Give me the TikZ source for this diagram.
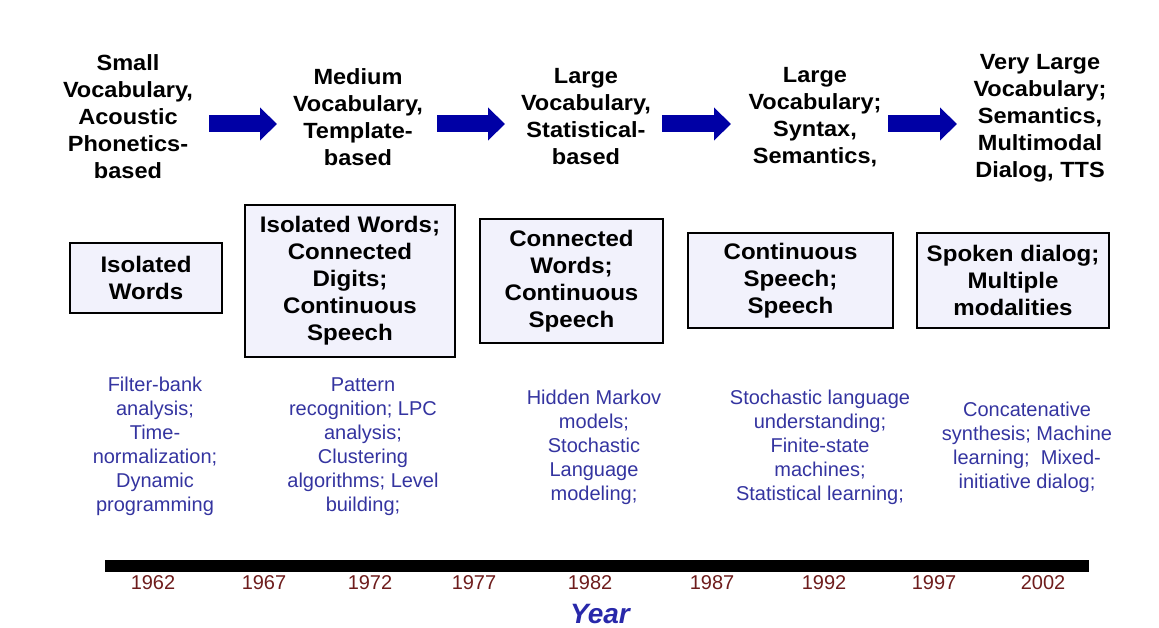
\documentclass[tikz,border=0pt]{standalone}
\usepackage{fontspec}
\setmainfont[FakeStretch=1.07]{Liberation Sans}
\newfontfamily\plainsans{Liberation Sans}
\usetikzlibrary{arrows.meta}
\definecolor{arrowblue}{RGB}{0,0,165}
\definecolor{techblue}{RGB}{52,52,160}
\definecolor{yearred}{RGB}{110,28,28}
\definecolor{yearblue}{RGB}{40,40,170}
\definecolor{boxfill}{RGB}{242,242,252}
\tikzset{
  heading/.style={align=center,inner sep=0pt,font=\bfseries\fontsize{22}{27}\selectfont},
  stagebox/.style={draw=black,line width=2pt,fill=boxfill,align=center,inner sep=0pt,font=\bfseries\fontsize{22.5}{27}\selectfont},
  tech/.style={align=center,inner sep=0pt,text=techblue,font=\plainsans\fontsize{20}{24}\selectfont},
  yearlbl/.style={inner sep=0pt,text=yearred,font=\plainsans\fontsize{20}{22}\selectfont},
  blockarrow/.style={draw=arrowblue,line width=17pt,-{Triangle[length=17pt,width=32pt,fill=arrowblue]}},
  timeline/.style={line width=12pt,black}
}
\begin{document}
\begin{tikzpicture}[x=1pt,y=-1pt]
\useasboundingbox (0,0) rectangle (1159,628);
% headings
\node[heading] (h1) at (128,117) {Small\\Vocabulary,\\Acoustic\\Phonetics-\\based};
\node[heading] (h2) at (358,117) {Medium\\Vocabulary,\\Template-\\based};
\node[heading] (h3) at (586,117) {Large\\Vocabulary,\\Statistical-\\based};
\node[heading] (h4) at (815,117) {Large\\Vocabulary;\\Syntax,\\Semantics,};
\node[heading] (h5) at (1040,118) {Very Large\\Vocabulary;\\Semantics,\\Multimodal\\Dialog, TTS};
% arrows
\coordinate (a1s) at (209,124); \coordinate (a1e) at (277,124);
\coordinate (a2s) at (437,124); \coordinate (a2e) at (505,124);
\coordinate (a3s) at (662,124); \coordinate (a3e) at (731,124);
\coordinate (a4s) at (888,124); \coordinate (a4e) at (957,124);
\draw[blockarrow] (a1s) -- (a1e);
\draw[blockarrow] (a2s) -- (a2e);
\draw[blockarrow] (a3s) -- (a3e);
\draw[blockarrow] (a4s) -- (a4e);
% boxes
\node[stagebox,minimum width=152pt,minimum height=70pt] (b1) at (146,278) {Isolated\\Words};
\node[stagebox,minimum width=210pt,minimum height=152pt] (b2) at (350,281) {Isolated Words;\\Connected\\Digits;\\Continuous\\Speech};
\node[stagebox,minimum width=183pt,minimum height=124pt] (b3) at (571.5,281) {Connected\\Words;\\Continuous\\Speech};
\node[stagebox,minimum width=205pt,minimum height=95pt] (b4) at (790.5,280.5) {Continuous\\Speech;\\Speech};
\node[stagebox,minimum width=192pt,minimum height=95pt] (b5) at (1013,280.5) {Spoken dialog;\\Multiple\\modalities};
% techniques
\node[tech] (t1) at (155,446) {Filter-bank\\analysis;\\Time-\\normalization;\\Dynamic\\programming};
\node[tech] (t2) at (363,446.5) {Pattern\\recognition; LPC\\analysis;\\Clustering\\algorithms; Level\\building;};
\node[tech] (t3) at (594,447) {Hidden Markov\\models;\\Stochastic\\Language\\modeling;};
\node[tech] (t4) at (820,447) {Stochastic language\\understanding;\\Finite-state\\machines;\\Statistical learning;};
\node[tech] (t5) at (1027,447.5) {Concatenative\\synthesis; Machine\\learning;\ \ Mixed-\\initiative dialog;};
% timeline
\coordinate (tl) at (105,566); \coordinate (tr) at (1089,566);
\draw[timeline] (tl) -- (tr);
\node[yearlbl] (y1) at (153,583) {1962};
\node[yearlbl] (y2) at (264,583) {1967};
\node[yearlbl] (y3) at (370,583) {1972};
\node[yearlbl] (y4) at (474,583) {1977};
\node[yearlbl] (y5) at (590,583) {1982};
\node[yearlbl] (y6) at (712,583) {1987};
\node[yearlbl] (y7) at (824,583) {1992};
\node[yearlbl] (y8) at (934,583) {1997};
\node[yearlbl] (y9) at (1043,583) {2002};
\node[inner sep=0pt,text=yearblue,font=\plainsans\bfseries\itshape\fontsize{28}{30}\selectfont] (year) at (600,614) {Year};
\end{tikzpicture}
\end{document}
